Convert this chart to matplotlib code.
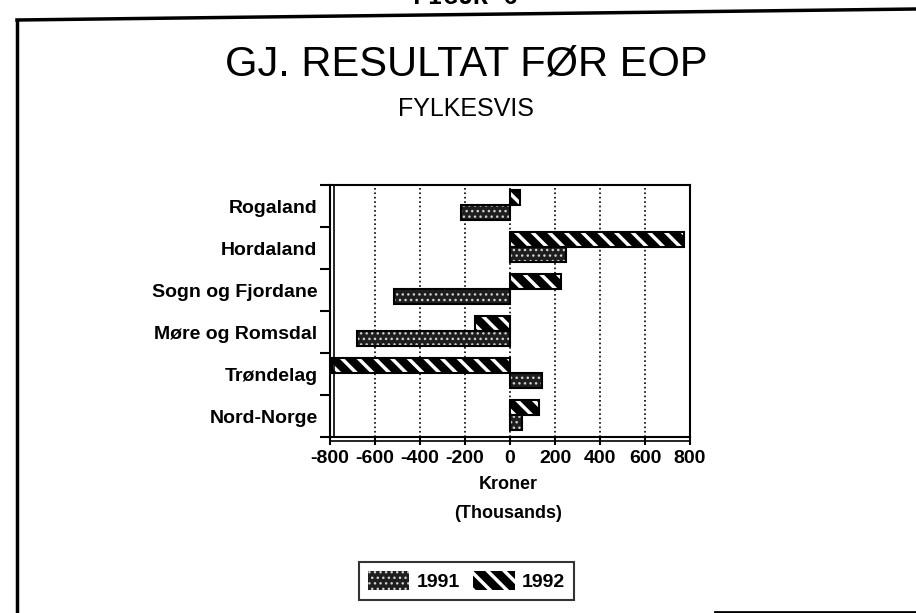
import numpy as np
import matplotlib.pyplot as plt
from matplotlib.patches import Patch
from matplotlib.lines import Line2D
from matplotlib.transforms import ScaledTranslation

plt.rcParams['font.family'] = ['Liberation Sans', 'DejaVu Sans']
plt.rcParams['hatch.linewidth'] = 2.5

# data (thousand kroner)
fylker = ['Rogaland', 'Hordaland', 'Sogn og Fjordane', 'Møre og Romsdal',
          'Trøndelag', 'Nord-Norge']
res_1991 = [-220, 250, -515, -680, 140, 55]
res_1992 = [45, 775, 225, -155, -790, 130]
xticks = [-800, -600, -400, -200, 0, 200, 400, 600, 800]

STIPPLE = dict(facecolor='#1e1e1e', edgecolor='#d0d0d0', hatch='...')
STRIPES = dict(facecolor='black', edgecolor='white', hatch='\\\\')

fig = plt.figure(figsize=(9.16, 6.13), dpi=100)
ax = fig.add_axes([0.3603, 0.2871, 0.393, 0.411])

y = np.arange(len(fylker))
h = 0.36

# 1992 on top (hatched), 1991 below (stippled)
ax.barh(y - h / 2 - 0.03, res_1992, height=h, linewidth=0, zorder=3, **STRIPES)
ax.barh(y - h / 2 - 0.03, res_1992, height=h, fill=False, edgecolor='black',
        linewidth=1.5, zorder=4)
b91 = ax.barh(y + h / 2 - 0.03, res_1991, height=h, linewidth=0, zorder=3, **STIPPLE)
ax.barh(y + h / 2 - 0.03, res_1991, height=h, fill=False, edgecolor='black',
        linewidth=1.5, zorder=4)
for p in b91:
    if hasattr(p, 'set_hatch_linewidth'):
        p.set_hatch_linewidth(1.0)

ax.set_xlim(-800, 800)
ax.set_ylim(len(fylker) - 0.5, -0.5)
ax.set_xticks(xticks)
ax.set_xticklabels([str(v) for v in xticks], fontsize=14, fontweight='bold')
ax.set_yticks(y)
ax.set_yticklabels(fylker, fontsize=14, fontweight='bold')
ax.set_yticks(np.arange(len(fylker) + 1) - 0.5, minor=True)
ax.tick_params(axis='y', which='major', length=0, pad=9)
ax.tick_params(axis='y', which='minor', length=7, width=1.5, direction='out')
ax.tick_params(axis='x', length=6, width=1.5, direction='out', pad=3)
ax.xaxis.grid(True, linestyle=':', color='black', linewidth=1.2, zorder=1)
for s in ax.spines.values():
    s.set_linewidth(1.5)

# second (floor) lines next to the left and bottom axes
off = ScaledTranslation(0.04, 0, fig.dpi_scale_trans)
ax.plot([0, 0], [0, 1], transform=ax.transAxes + off, color='black',
        linewidth=1.2, clip_on=False, zorder=5)
off_b = ScaledTranslation(0, -0.04, fig.dpi_scale_trans)
ax.plot([0, 1], [0, 0], transform=ax.transAxes + off_b, color='black',
        linewidth=1.2, clip_on=False, zorder=5)

fig.text(0.509, 0.895, 'GJ. RESULTAT FØR EOP', ha='center', va='center',
         fontsize=30)
fig.text(0.509, 0.822, 'FYLKESVIS', ha='center', va='center', fontsize=18)
fig.text(0.5546, 0.209, 'Kroner', ha='center', va='center', fontsize=13,
         fontweight='bold')
fig.text(0.5546, 0.163, '(Thousands)', ha='center', va='center', fontsize=13,
         fontweight='bold')

# page header, mostly cut off at the top of the scan
fig.text(0.508, 1 - 4 / 613, 'FIGUR 6', ha='center', va='baseline',
         fontsize=18, family='Liberation Mono', fontweight='bold')

handles = [Patch(linewidth=0, **STIPPLE), Patch(linewidth=0, **STRIPES)]
leg = fig.legend(handles, ['1991', '1992'], loc='center', ncol=2,
                 bbox_to_anchor=(0.509, 0.0525), frameon=True, fancybox=False,
                 edgecolor='black', prop={'size': 14, 'weight': 'bold'},
                 handlelength=2.15, handleheight=1.2, columnspacing=0.7,
                 handletextpad=0.35, borderpad=0.45, borderaxespad=0)
leg.get_frame().set_linewidth(1.5)
for p in leg.get_patches():
    if hasattr(p, 'set_hatch_linewidth') and p.get_hatch() == '...':
        p.set_hatch_linewidth(1.0)

# page frame from the scan
W, H = 916, 613
fig.add_artist(Line2D([17 / W, 17 / W], [0, 1 - 20 / H], color='black', linewidth=2.5))
fig.add_artist(Line2D([17 / W, 1], [1 - 20 / H, 1 - 9 / H], color='black', linewidth=2.5))
fig.add_artist(Line2D([715 / W, 1], [1 / H, 1 / H], color='black', linewidth=2))

fig.savefig('out.png', dpi=100)
